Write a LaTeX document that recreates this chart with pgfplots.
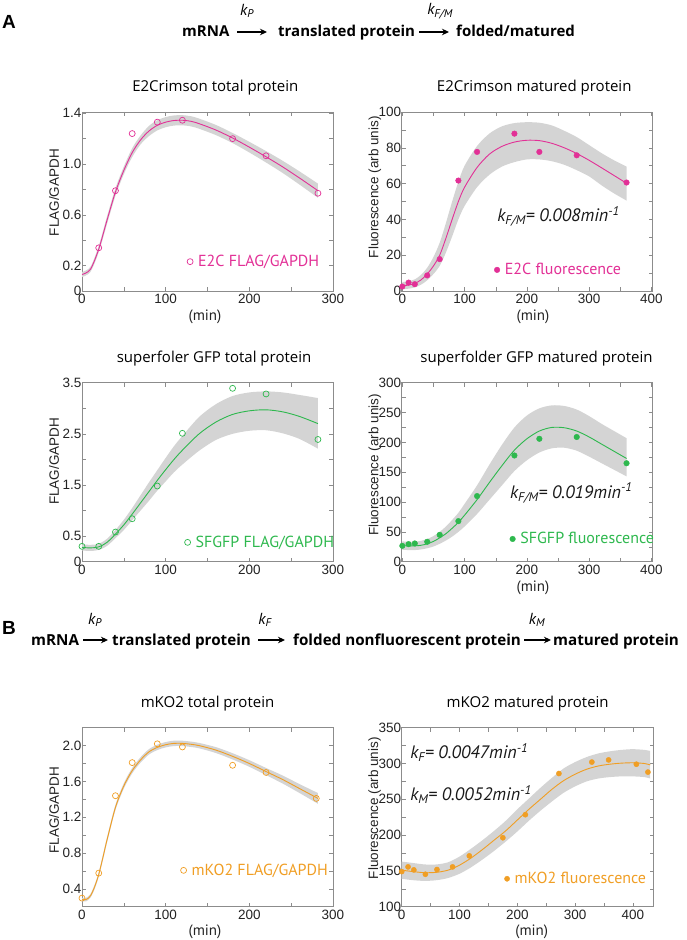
\documentclass[border=0pt]{standalone}
\usepackage{pgfplots}
\pgfplotsset{compat=1.18}
\usepgfplotslibrary{fillbetween}
\usetikzlibrary{arrows.meta}
\usepackage{fontspec}
\setmainfont{Liberation Sans}
\newfontfamily\myr{PT Sans}
\newfontfamily\dia{Open Sans}
\definecolor{e2c}{RGB}{226,48,150}
\definecolor{sfg}{RGB}{46,184,78}
\definecolor{mko}{RGB}{240,158,36}
\definecolor{bandc}{RGB}{212,212,212}
\definecolor{framec}{RGB}{140,140,140}
\definecolor{tickc}{RGB}{35,35,35}
\pgfplotsset{
  panel/.style={
    scale only axis, width=251pt, height=179pt,
    axis line style={framec, line width=0.6pt},
    every tick/.style={framec, line width=0.5pt},
    major tick length=4pt, minor tick length=4pt,
    tick align=inside, tick pos=both, ticklabel pos=left,
    tick label style={font=\fontsize{13.5}{15}\selectfont, text=tickc},
    /pgf/number format/assume math mode=true,
    yticklabel style={xshift=3pt},
    title style={at={(0.5,1)}, anchor=base, yshift=14pt, font=\dia\fontsize{15}{17}\selectfont},
    ylabel style={anchor=center, font=\fontsize{13.5}{15}\selectfont, text=tickc},
    xlabel style={anchor=center, font=\myr\fontsize{15}{17}\selectfont, text=tickc},
    legend cell align=left,
    legend style={anchor=west, draw=none, fill=none, inner sep=0pt, font=\myr\fontsize{16}{18}\selectfont,
      /tikz/every odd column/.append style={column sep=3pt}},
    clip=false,
  },
  curve/.style={smooth, line width=0.9pt, forget plot},
  bnd/.style={name path=#1, draw=none, smooth, forget plot},
  legimg/.style={legend image code/.code={\draw[##1] plot coordinates {(0pt,0pt)};}},
}
\tikzset{ktext/.style={anchor=west, font=\myr\itshape\fontsize{18}{20}\selectfont, text=black!90}}
\begin{document}
\begin{tikzpicture}[x=1pt,y=1pt]

% ---------- Diagram A ----------
\node[font=\bfseries\fontsize{19}{21}\selectfont] at (9,918) {A};
\begin{scope}[every node/.style={anchor=base west, inner sep=0pt, font=\dia\bfseries\fontsize{15}{17}\selectfont}]
\node at (182,903) {mRNA};
\node at (278,903) {translated protein};
\node at (456,903) {folded/matured};
\end{scope}
\draw[line width=1.1pt, -{Stealth[length=7pt, width=6.5pt]}] (237,908) -- (267,908);
\draw[line width=1.1pt, -{Stealth[length=7pt, width=6.5pt]}] (419,908) -- (449,908);
\node[font=\myr\itshape\fontsize{16}{18}\selectfont] at (247,929) {k\textsubscript{P}};
\node[font=\myr\itshape\fontsize{16}{18}\selectfont] at (440,929) {k\textsubscript{F/M}};

% ---------- Diagram B ----------
\node[font=\bfseries\fontsize{19}{21}\selectfont] at (9,312) {B};
\begin{scope}[every node/.style={anchor=base west, inner sep=0pt, font=\dia\bfseries\fontsize{15.2}{17}\selectfont}]
\node at (31,294) {mRNA};
\node at (112,294) {translated protein};
\node at (293,294) {folded nonfluorescent protein};
\node at (553,294) {matured protein};
\end{scope}
\draw[line width=1.1pt, -{Stealth[length=7pt, width=6.5pt]}] (83,300) -- (108,300);
\draw[line width=1.1pt, -{Stealth[length=7pt, width=6.5pt]}] (258,300) -- (285,300);
\draw[line width=1.1pt, -{Stealth[length=7pt, width=6.5pt]}] (524,300) -- (551,300);
\node[font=\myr\itshape\fontsize{16}{18}\selectfont] at (95,320) {k\textsubscript{P}};
\node[font=\myr\itshape\fontsize{16}{18}\selectfont] at (265,320) {k\textsubscript{F}};
\node[font=\myr\itshape\fontsize{16}{18}\selectfont] at (537,320) {k\textsubscript{M}};

% ---------- P1: E2Crimson total ----------
\begin{axis}[panel, at={(82pt,649pt)}, anchor=south west,
  xmin=0, xmax=300, ymin=0, ymax=1.41,
  xtick={0,100,200,300}, minor xtick={50,150,250},
  ytick={0,0.2,0.6,1.0,1.4}, yticklabels={0,0.2,0.6,1.0,1.4}, minor ytick={0.4,0.8,1.2},
  title={E2Crimson total protein}, title style={at={(0.531,1)}},
  ylabel={FLAG/GAPDH}, ylabel style={at={(axis description cs:-0.111,0.55)}},
  xlabel={(min)}, xlabel style={at={(axis description cs:0.49,0)}, yshift=-26pt},
  legend style={at={(0.418,0.164)}, text=e2c},
]
\addplot[bnd=u1] coordinates {(0,.15)(10,.19)(20,.355)(30,.59)(40,.81)(50,.98)(60,1.125)(70,1.225)(80,1.30)(90,1.345)(100,1.37)(110,1.383)(120,1.385)(130,1.377)(140,1.358)(160,1.308)(180,1.245)(200,1.175)(220,1.102)(240,1.025)(260,.942)(282,.846)};
\addplot[bnd=l1] coordinates {(0,.11)(10,.15)(20,.305)(30,.53)(40,.75)(50,.92)(60,1.055)(70,1.155)(80,1.22)(90,1.265)(100,1.29)(110,1.303)(120,1.305)(130,1.297)(140,1.278)(160,1.228)(180,1.165)(200,1.091)(220,1.012)(240,.929)(260,.838)(282,.734)};
\addplot[fill=bandc, draw=none, forget plot] fill between[of=u1 and l1];
\addplot[curve, e2c] coordinates {(0,.13)(10,.17)(20,.33)(30,.56)(40,.78)(50,.95)(60,1.09)(70,1.19)(80,1.26)(90,1.305)(100,1.33)(110,1.343)(120,1.345)(130,1.337)(140,1.318)(160,1.268)(180,1.205)(200,1.133)(220,1.057)(240,.977)(260,.89)(282,.79)};
\addplot[only marks, mark=o, mark size=3pt, line width=0.7pt, e2c, legimg] coordinates {(20,0.34)(40,0.79)(60,1.24)(90,1.33)(120,1.345)(180,1.20)(220,1.065)(282,0.77)};
\addlegendentry{E2C FLAG/GAPDH}
\end{axis}

% ---------- P2: E2Crimson matured ----------
\begin{axis}[panel, at={(401.7pt,649pt)}, anchor=south west,
  xmin=-1, xmax=402, ymin=0, ymax=100,
  xtick={0,100,200,300,400}, minor xtick={50,150,250,350},
  ytick={0,20,40,60,80,100}, minor ytick={10,30,50,70,90},
  title={E2Crimson matured protein}, title style={at={(0.528,1)}},
  ylabel={Fluorescence (arb unis)}, ylabel style={at={(axis description cs:-0.107,0.58)}},
  xlabel={(min)}, xlabel style={at={(axis description cs:0.523,0)}, yshift=-26pt},
  legend style={at={(0.368,0.118)}, text=e2c},
]
\addplot[bnd=u2] coordinates {(0,5)(10,5.5)(20,6.5)(30,9)(40,13)(50,19)(60,27)(70,38)(80,50)(90,61)(100,70)(120,81)(140,88)(160,92)(180,93.8)(200,94.3)(220,94)(240,92.5)(260,89.5)(280,86)(300,81.5)(320,77)(340,73)(360,69.5)};
\addplot[bnd=l2] coordinates {(0,1)(10,1.3)(20,2)(30,3.5)(40,6)(50,9.5)(60,14)(70,21.5)(80,30.5)(90,40)(100,47.5)(120,58)(140,65)(160,69.5)(180,72)(200,73.5)(220,73.5)(240,72.5)(260,70.5)(280,67.5)(300,64)(320,59)(340,54.5)(360,50.5)};
\addplot[fill=bandc, draw=none, forget plot] fill between[of=u2 and l2];
\addplot[curve, e2c] coordinates {(0,3)(10,3.3)(20,4.2)(30,6.2)(40,9.5)(50,14)(60,20)(70,29.5)(80,40)(90,50)(100,58)(120,69)(140,76.5)(160,80.8)(180,83.2)(200,84.2)(220,84)(240,82.5)(260,80)(280,76.8)(300,73)(320,68.8)(340,64.5)(360,60.2)};
\addplot[only marks, mark=*, mark size=2.8pt, e2c, legimg] coordinates {(0,2.5)(10,4.7)(20,3.8)(40,8.7)(60,17.8)(90,61.7)(120,77.7)(180,87.9)(220,77.7)(280,75.8)(360,60.6)};
\addlegendentry{E2C fluorescence}
\node[ktext] at (axis description cs:0.367,0.416) {k\textsubscript{F/M}= 0.008min\textsuperscript{-1}};
\end{axis}

% ---------- P3: SFGFP total ----------
\begin{axis}[panel, at={(82pt,378.3pt)}, anchor=south west,
  xmin=0, xmax=300, ymin=0, ymax=3.5,
  xtick={0,100,200,300}, minor xtick={50,150,250},
  ytick={0,0.5,1.5,2.5,3.5}, yticklabels={0,0.5,1.5,2.5,3.5}, minor ytick={1,2,3},
  title={superfoler GFP total protein}, title style={at={(0.526,1)}},
  ylabel={FLAG/GAPDH}, ylabel style={at={(axis description cs:-0.111,0.56)}},
  legend style={at={(0.408,0.108)}, text=sfg},
]
\addplot[bnd=u3] coordinates {(0,.34)(10,.33)(20,.35)(30,.45)(40,.62)(50,.82)(60,1.05)(70,1.30)(80,1.55)(90,1.79)(100,2.03)(110,2.26)(120,2.46)(140,2.83)(160,3.08)(180,3.24)(200,3.31)(220,3.33)(240,3.31)(260,3.26)(282,3.20)};
\addplot[bnd=l3] coordinates {(0,.22)(10,.21)(20,.23)(30,.31)(40,.46)(50,.62)(60,.81)(70,1.00)(80,1.19)(90,1.39)(100,1.57)(110,1.75)(120,1.90)(140,2.17)(160,2.38)(180,2.50)(200,2.56)(220,2.57)(240,2.51)(260,2.40)(282,2.21)};
\addplot[fill=bandc, draw=none, forget plot] fill between[of=u3 and l3];
\addplot[curve, sfg] coordinates {(0,.28)(10,.27)(20,.29)(30,.38)(40,.54)(50,.72)(60,.93)(70,1.15)(80,1.37)(90,1.59)(100,1.80)(110,2.0)(120,2.18)(140,2.5)(160,2.73)(180,2.88)(200,2.95)(220,2.97)(240,2.93)(260,2.84)(282,2.70)};
\addplot[only marks, mark=o, mark size=3pt, line width=0.7pt, sfg, legimg] coordinates {(0,0.30)(20,0.30)(40,0.58)(60,0.84)(90,1.48)(120,2.51)(180,3.39)(220,3.28)(282,2.39)};
\addlegendentry{SFGFP FLAG/GAPDH}
\end{axis}

% ---------- P4: SFGFP matured ----------
\begin{axis}[panel, at={(401.7pt,378.3pt)}, anchor=south west,
  xmin=-1, xmax=402, ymin=0, ymax=300,
  xtick={0,100,200,300,400}, minor xtick={50,150,250,350},
  ytick={0,50,100,150,200,250,300}, minor ytick={25,75,125,175,225,275},
  title={superfolder GFP matured protein}, title style={at={(0.537,1)}},
  ylabel={Fluorescence (arb unis)}, ylabel style={at={(axis description cs:-0.107,0.54)}},
  xlabel={(min)}, xlabel style={at={(axis description cs:0.523,0)}, yshift=-26pt},
  legend style={at={(0.43,0.127)}, text=sfg},
]
\addplot[bnd=u4] coordinates {(0,34)(10,33.5)(20,33.5)(30,35)(40,38)(50,43)(60,50)(70,59)(80,70)(90,82)(100,97)(120,128)(140,163)(160,196)(180,225)(200,245)(220,257)(240,262)(260,261)(280,255)(300,244)(320,231)(340,219)(360,207)};
\addplot[bnd=l4] coordinates {(0,20)(10,19.5)(20,19.5)(30,20.5)(40,22.5)(50,25.5)(60,30)(70,35.5)(80,42)(90,50)(100,59)(120,80)(140,104)(160,128)(180,152)(200,170)(220,183)(240,190)(260,191)(280,186)(300,176)(320,165)(340,154)(360,143)};
\addplot[fill=bandc, draw=none, forget plot] fill between[of=u4 and l4];
\addplot[curve, sfg] coordinates {(0,27)(10,26.5)(20,26.5)(30,27.5)(40,30)(50,34)(60,40)(70,47)(80,56)(90,66)(100,78)(120,104)(140,133)(160,161)(180,187)(200,206)(220,219)(240,225)(260,224.5)(280,219)(300,209)(320,197)(340,185)(360,173)};
\addplot[only marks, mark=*, mark size=2.8pt, sfg, legimg] coordinates {(0,26.6)(10,29.4)(20,30.6)(40,33.4)(60,45)(90,68)(120,110)(180,178)(220,206)(280,209)(360,165)};
\addlegendentry{SFGFP fluorescence}
\node[ktext] at (axis description cs:0.418,0.384) {k\textsubscript{F/M}= 0.019min\textsuperscript{-1}};
\end{axis}

% ---------- P5: mKO2 total ----------
\begin{axis}[panel, at={(82pt,33.3pt)}, anchor=south west,
  xmin=0, xmax=300, ymin=0.2, ymax=2.2,
  xtick={0,100,200,300}, minor xtick={50,150,250},
  ytick={0.4,0.8,1.2,1.6,2.0}, yticklabels={0.4,0.8,1.2,1.6,2.0}, minor ytick={0.6,1.0,1.4,1.8},
  title={mKO2 total protein}, title style={at={(0.5,1)}},
  ylabel={FLAG/GAPDH}, ylabel style={at={(axis description cs:-0.111,0.54)}},
  xlabel={(min)}, xlabel style={at={(axis description cs:0.49,0)}, yshift=-25pt},
  legend style={at={(0.392,0.203)}, text=mko},
]
\addplot[bnd=u5] coordinates {(0,.30)(5,.30)(10,.34)(15,.445)(20,.585)(25,.78)(30,.98)(40,1.34)(50,1.58)(60,1.75)(70,1.87)(80,1.96)(90,2.01)(100,2.04)(110,2.055)(120,2.055)(130,2.045)(140,2.03)(160,1.983)(180,1.915)(200,1.837)(220,1.75)(240,1.665)(260,1.57)(282,1.47)};
\addplot[bnd=l5] coordinates {(0,.26)(5,.26)(10,.30)(15,.395)(20,.535)(25,.72)(30,.92)(40,1.28)(50,1.52)(60,1.69)(70,1.81)(80,1.90)(90,1.95)(100,1.98)(110,1.995)(120,1.995)(130,1.985)(140,1.97)(160,1.917)(180,1.845)(200,1.763)(220,1.67)(240,1.575)(260,1.47)(282,1.35)};
\addplot[fill=bandc, draw=none, forget plot] fill between[of=u5 and l5];
\addplot[curve, mko] coordinates {(0,.28)(5,.28)(10,.32)(15,.42)(20,.56)(25,.75)(30,.95)(40,1.31)(50,1.55)(60,1.72)(70,1.84)(80,1.93)(90,1.98)(100,2.01)(110,2.025)(120,2.025)(130,2.015)(140,2.0)(160,1.95)(180,1.88)(200,1.80)(220,1.71)(240,1.62)(260,1.52)(282,1.41)};
\addplot[only marks, mark=o, mark size=3pt, line width=0.7pt, mko, legimg] coordinates {(0,0.296)(20,0.575)(40,1.44)(60,1.81)(90,2.02)(120,1.985)(180,1.78)(220,1.70)(280,1.41)};
\addlegendentry{mKO2 FLAG/GAPDH}
\end{axis}

% ---------- P6: mKO2 matured ----------
\begin{axis}[panel, at={(401.7pt,33.3pt)}, anchor=south west, width=252pt,
  xmin=0, xmax=436, ymin=100, ymax=350,
  xtick={0,100,200,300,400}, minor xtick={50,150,250,350},
  ytick={100,150,200,250,300,350}, minor ytick={125,175,225,275,325},
  title={mKO2 matured protein}, title style={at={(0.5,1)}},
  ylabel={Fluorescence (arb unis)}, ylabel style={at={(axis description cs:-0.107,0.55)}},
  xlabel={(min)}, xlabel style={at={(axis description cs:0.516,0)}, yshift=-25pt},
  legend style={at={(0.407,0.156)}, text=mko},
]
\addplot[bnd=u6] coordinates {(0,163)(20,161)(40,159)(60,159)(80,162)(100,170)(120,181)(140,193)(160,206)(180,220)(200,236)(220,251)(240,266)(260,280)(280,293)(300,302)(320,309)(340,314)(360,317)(380,319)(400,320)(420,319)(430,317.5)};
\addplot[bnd=l6] coordinates {(0,139)(20,137)(40,136)(60,137)(80,140)(100,146)(120,155)(140,166)(160,178)(180,191)(200,205)(220,220)(240,234)(260,247)(280,259)(300,268)(320,275)(340,279)(360,281)(380,282)(400,282)(420,281)(430,279)};
\addplot[fill=bandc, draw=none, forget plot] fill between[of=u6 and l6];
\addplot[curve, mko] coordinates {(0,151)(20,149)(40,147.5)(60,148)(80,151)(100,158)(120,168)(140,180)(160,193)(180,206)(200,221)(220,236)(240,250)(260,264)(280,276)(300,285)(320,292)(340,296.5)(360,299)(380,300.5)(400,301)(420,300)(430,298)};
\addplot[only marks, mark=*, mark size=2.6pt, mko, legimg] coordinates {(0,149)(11,155.6)(21,151.4)(41,145.3)(61,151.9)(88,155.6)(117,171)(175,196.3)(214,228.5)(272,286)(329,302)(358,305)(406,299)(426,288)};
\addlegendentry{mKO2 fluorescence}
\node[ktext] at (axis description cs:0.02,0.86) {k\textsubscript{F}= 0.0047min\textsuperscript{-1}};
\node[ktext] at (axis description cs:0.02,0.626) {k\textsubscript{M}= 0.0052min\textsuperscript{-1}};
\end{axis}

\pgfresetboundingbox
\useasboundingbox (0,0) rectangle (686,940);
\end{tikzpicture}
\end{document}
